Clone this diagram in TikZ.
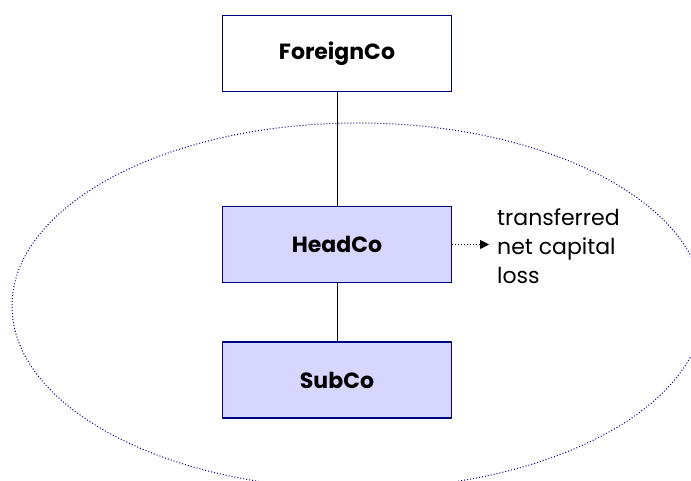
\documentclass[tikz,border=0pt]{standalone}
\usepackage{fontspec}
\setmainfont{Poppins}
\usetikzlibrary{arrows.meta}
\definecolor{navy}{RGB}{0,0,128}
\definecolor{boxfill}{RGB}{214,214,255}
\begin{document}
\begin{tikzpicture}[x=1pt,y=1pt,
  company/.style={draw=navy,line width=1.5pt,minimum width=229pt,minimum height=76pt,inner sep=0pt,font=\fontsize{22}{26}\selectfont\bfseries},
  member/.style={company,fill=boxfill},
  link/.style={draw=black,line width=1pt}]
\useasboundingbox (0,0) rectangle (691,481);
\begin{scope}
\clip (0,0) rectangle (691,481);
\draw[navy,dotted,line width=1pt] (358,175) ellipse [x radius=346,y radius=183];
\end{scope}
\node[company,fill=white] (foreign) at (337,427.5) {ForeignCo};
\node[member] (head) at (337,236.5) {HeadCo};
\node[member] (sub) at (337,101) {SubCo};
\draw[link] (foreign) -- (head);
\draw[link] (head) -- (sub);
\node[anchor=west,align=left,inner sep=0pt,font=\fontsize{22}{29}\selectfont] (loss) at (497,235) {transferred\\net capital\\loss};
\draw[dotted,line width=1pt,-{Triangle[length=9pt,width=9pt]}] (head.east) -- ([xshift=-8pt]loss.west |- head.east);
\end{tikzpicture}
\end{document}
